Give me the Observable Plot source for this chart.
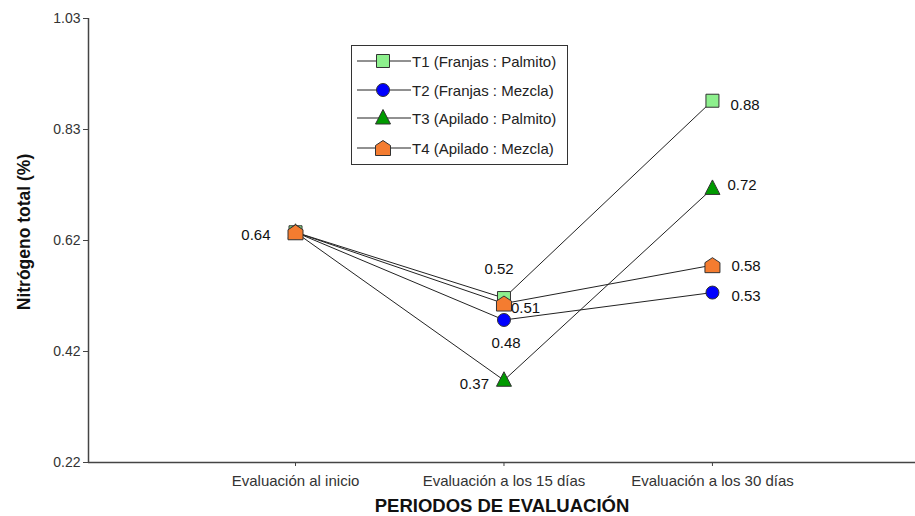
<!DOCTYPE html>
<html><head><meta charset="utf-8">
<script src="https://cdn.jsdelivr.net/npm/d3@7"></script>
<script src="https://cdn.jsdelivr.net/npm/@observablehq/plot@0.6"></script>
<style>
body{margin:0;background:#fff;font-family:Arial,"Liberation Sans",sans-serif;}
#wrap{position:relative;width:915px;height:516px;overflow:hidden;}
#legend{position:absolute;left:351px;top:45px;width:215px;height:118px;border:1.5px solid #333;background:#fff;}
.row{position:absolute;left:5px;height:20px;display:flex;align-items:center;font-size:15px;color:#222;}
.row svg{display:block;margin-right:1px;}
#ytitle{position:absolute;left:24px;top:232px;transform:translate(-50%,-50%) rotate(-90deg);font-weight:bold;font-size:17.5px;white-space:nowrap;color:#111;}
#xtitle{position:absolute;left:502px;top:506px;transform:translate(-50%,-50%);font-weight:bold;font-size:18.5px;white-space:nowrap;color:#111;}
</style></head>
<body><div id="wrap"></div>
<script>
// ---- data ----
const periods = ["Evaluación al inicio", "Evaluación a los 15 días", "Evaluación a los 30 días"];
const seriesNames = ["T1 (Franjas : Palmito)", "T2 (Franjas : Mezcla)", "T3 (Apilado : Palmito)", "T4 (Apilado : Mezcla)"];
const t1 = [0.64, 0.52, 0.88];
const t2 = [0.64, 0.48, 0.53];
const t3 = [0.64, 0.37, 0.72];
const t4 = [0.64, 0.51, 0.58];
const yTicks = [0.22, 0.4225, 0.625, 0.8275, 1.03];
const yTickLabels = ["0.22", "0.42", "0.62", "0.83", "1.03"];
const labelText = ["0.64", "0.52", "0.51", "0.48", "0.37", "0.88", "0.72", "0.58", "0.53"];

// ---- styling ----
const fills = ["#8df08d", "#0000ff", "#009a00", "#f47c30"];
const sq = {draw(c){ const s = 6.5; c.rect(-s, -s, 2*s, 2*s); }};
const ci = {draw(c){ const r = 6.5; c.moveTo(r, 0); c.arc(0, 0, r, 0, 2*Math.PI); }};
const tri = {draw(c){ c.moveTo(0, -8.5); c.lineTo(7.5, 6); c.lineTo(-7.5, 6); c.closePath(); }};
const house = {draw(c){ c.moveTo(0, -7.5); c.lineTo(7.5, -2.5); c.lineTo(7.5, 7.5); c.lineTo(-7.5, 7.5); c.lineTo(-7.5, -2.5); c.closePath(); }};
const symbols = [sq, ci, tri, house];

const values = [t1, t2, t3, t4];
const rows = [];
seriesNames.forEach((s, k) => values[k].forEach((v, i) => rows.push({series: s, k, i, value: v})));

// label placement per labelled point (series index k, period i)
const placements = [
  {k: 3, i: 0, dx: -25, dy: 3, anchor: "end"},
  {k: 0, i: 1, dx: -5, dy: -29, anchor: "middle"},
  {k: 3, i: 1, dx: 7, dy: 5, anchor: "start"},
  {k: 1, i: 1, dx: 2, dy: 23, anchor: "middle"},
  {k: 2, i: 1, dx: -15, dy: 4, anchor: "end"},
  {k: 0, i: 2, dx: 18, dy: 4, anchor: "start"},
  {k: 2, i: 2, dx: 15, dy: -3, anchor: "start"},
  {k: 3, i: 2, dx: 19, dy: 1, anchor: "start"},
  {k: 1, i: 2, dx: 19, dy: 4, anchor: "start"}
];

const marks = [
  Plot.ruleY([0.22], {stroke: "#444", strokeWidth: 1.5}),
  Plot.ruleX([-0.993], {stroke: "#444", strokeWidth: 1.5}),
  Plot.axisY({ticks: yTicks, tickFormat: d => yTickLabels[yTicks.indexOf(d)], tickSize: 5, tickPadding: 3, label: null, fill: "#333", stroke: "#444", fontSize: 14}),
  Plot.axisX({ticks: [0, 1, 2], tickFormat: i => periods[i], tickSize: 4, tickPadding: 9, label: null, fill: "#333", stroke: "#444", fontSize: 15}),
  Plot.line(rows, {x: "i", y: "value", z: "series", stroke: "#222", strokeWidth: 1})
];
seriesNames.forEach((s, k) => {
  marks.push(Plot.dot(rows.filter(r => r.k === k), {x: "i", y: "value", symbol: symbols[k], fill: fills[k], stroke: "#333", strokeWidth: 1}));
});
placements.forEach((p, j) => {
  const r = rows.find(d => d.k === p.k && d.i === p.i);
  marks.push(Plot.text([r], {x: "i", y: "value", text: () => labelText[j], dx: p.dx, dy: p.dy, textAnchor: p.anchor, fontSize: 15, fill: "#111"}));
});

const chart = Plot.plot({
  width: 915, height: 516,
  marginLeft: 88, marginRight: 0, marginTop: 18, marginBottom: 54,
  style: {fontFamily: "Arial, 'Liberation Sans', sans-serif", fontSize: "14px", background: "#fff"},
  x: {type: "linear", domain: [-0.993, 2.974]},
  y: {domain: [0.22, 1.03]},
  marks
});
const wrap = document.getElementById("wrap");
wrap.appendChild(chart);

// titles
const yt = document.createElement("div"); yt.id = "ytitle"; yt.textContent = "Nitrógeno total (%)"; wrap.appendChild(yt);
const xt = document.createElement("div"); xt.id = "xtitle"; xt.textContent = "PERIODOS DE EVALUACIÓN"; wrap.appendChild(xt);

// legend
const legend = document.createElement("div"); legend.id = "legend";
const rowTops = [5, 34, 62, 92];
seriesNames.forEach((s, k) => {
  const row = document.createElement("div"); row.className = "row"; row.style.top = rowTops[k] + "px";
  const svg = d3.create("svg").attr("width", 54).attr("height", 20);
  svg.append("line").attr("x1", 0).attr("x2", 54).attr("y1", 10).attr("y2", 10).attr("stroke", "#222");
  const path = d3.path(); symbols[k].draw(path);
  svg.append("path").attr("d", path.toString()).attr("transform", "translate(26,10)").attr("fill", fills[k]).attr("stroke", "#333");
  row.appendChild(svg.node());
  const t = document.createElement("span"); t.textContent = s; row.appendChild(t);
  legend.appendChild(row);
});
wrap.appendChild(legend);
</script>
</body></html>
